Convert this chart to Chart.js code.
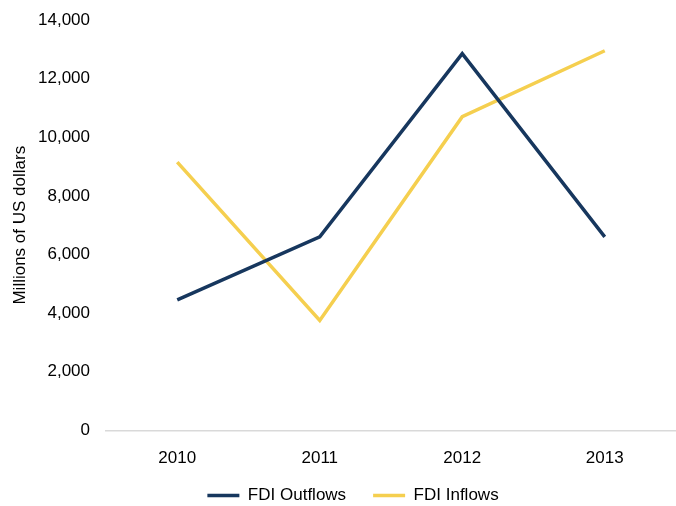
<!DOCTYPE html>
<html>
<head>
<meta charset="utf-8">
<script src="https://cdn.jsdelivr.net/npm/chart.js@4"></script>
<style>
  html, body { margin: 0; padding: 0; background: #fff; }
  #wrap { width: 676px; height: 506px; }
</style>
</head>
<body>
<div id="wrap"><canvas id="fdiChart" width="676" height="506"></canvas></div>
<script>
const years = ['2010', '2011', '2012', '2013'];
const fdiOutflows = [4450, 6600, 12850, 6600];
const fdiInflows = [9150, 3750, 10700, 12950];
const yTicks = [0, 2000, 4000, 6000, 8000, 10000, 12000, 14000];

const ctx = document.getElementById('fdiChart').getContext('2d');
new Chart(ctx, {
    type: 'line',
    data: {
        labels: years,
        datasets: [{
            label: 'FDI Outflows',
            data: fdiOutflows,
            borderColor: '#17375E',
            backgroundColor: '#17375E',
            borderWidth: 3.5,
            pointRadius: 0,
            tension: 0
        }, {
            label: 'FDI Inflows',
            data: fdiInflows,
            borderColor: '#F5CF4F',
            backgroundColor: '#F5CF4F',
            borderWidth: 3.5,
            pointRadius: 0,
            tension: 0
        }]
    },
    options: {
        responsive: false,
        animation: false,
        // left padding also nudges the centred legend to the right
        layout: { padding: { top: 0, right: -4, bottom: -8, left: 26 } },
        scales: {
            x: {
                offset: true,
                grid: { display: false, drawTicks: false },
                border: { display: true, color: '#D9D9D9', width: 1.5 },
                ticks: { color: '#000', font: { family: 'Liberation Sans', size: 17 }, padding: 18 }
            },
            y: {
                min: 0,
                max: 14000,
                afterBuildTicks: axis => { axis.ticks = yTicks.map(v => ({ value: v })); },
                afterFit: axis => {
                    axis.width = 80;
                    axis.paddingTop = 20;
                },
                grid: { display: false, drawTicks: false },
                border: { display: false },
                ticks: {
                    color: '#000',
                    font: { family: 'Liberation Sans', size: 17 },
                    padding: 16,
                    callback: v => v.toLocaleString('en-US')
                },
                title: {
                    display: true,
                    text: 'Millions of US dollars',
                    color: '#000',
                    font: { family: 'Liberation Sans', size: 17 },
                    padding: { top: -16, bottom: 0 }
                }
            }
        },
        plugins: {
            legend: {
                position: 'bottom',
                // blank title with negative padding pulls the legend row closer to the axis
                title: { display: true, text: ' ', font: { size: 1 }, padding: { top: 0, bottom: -28 } },
                labels: {
                    usePointStyle: true,
                    pointStyle: 'line',
                    pointStyleWidth: 32,
                    boxWidth: 32,
                    color: '#000',
                    font: { family: 'Liberation Sans', size: 17 },
                    padding: 27
                }
            },
            tooltip: { enabled: false }
        }
    }
});
</script>
</body>
</html>
